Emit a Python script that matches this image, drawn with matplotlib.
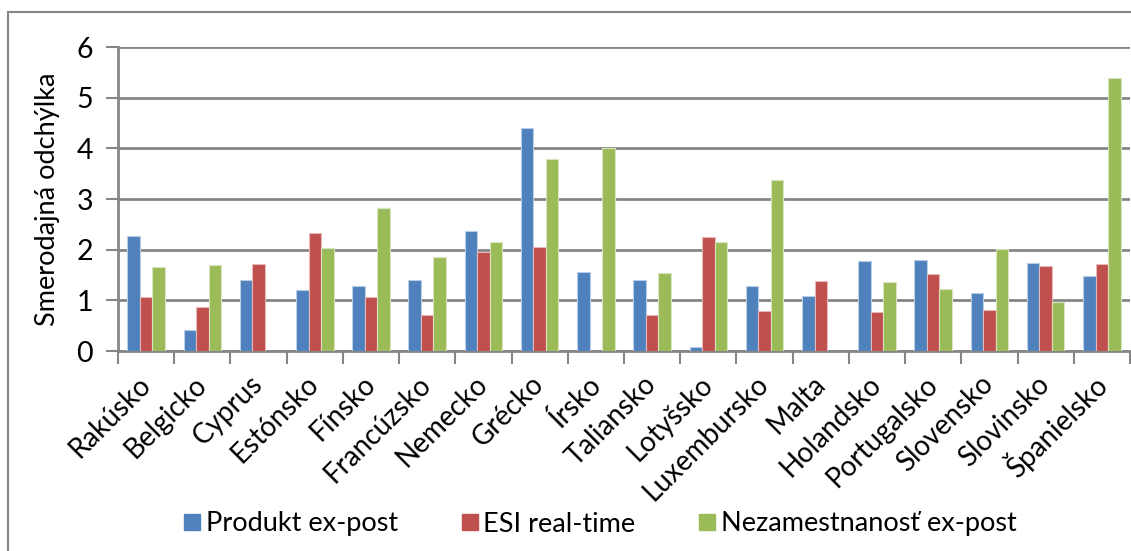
import matplotlib
matplotlib.use("Agg")
import matplotlib.pyplot as plt
from matplotlib.lines import Line2D
import numpy as np

countries = ["Rakúsko", "Belgicko", "Cyprus", "Estónsko", "Fínsko", "Francúzsko",
             "Nemecko", "Grécko", "Írsko", "Taliansko", "Lotyšsko", "Luxembursko",
             "Malta", "Holandsko", "Portugalsko", "Slovensko", "Slovinsko", "Španielsko"]
produkt = [2.27, 0.41, 1.41, 1.21, 1.28, 1.41, 2.37, 4.41, 1.55, 1.41, 0.07, 1.29,
           1.08, 1.78, 1.80, 1.14, 1.73, 1.48]
esi = [1.06, 0.87, 1.72, 2.33, 1.07, 0.71, 1.95, 2.06, 0.0, 0.71, 2.25, 0.78,
       1.39, 0.77, 1.52, 0.81, 1.67, 1.72]
nezam = [1.65, 1.70, 0.0, 2.04, 2.83, 1.86, 2.15, 3.78, 4.01, 1.54, 2.15, 3.37,
         0.0, 1.36, 1.23, 2.02, 0.96, 5.39]
series_names = ["Produkt ex-post", "ESI real-time", "Nezamestnanosť ex-post"]
colors = ["#4F81BD", "#C0504D", "#9BBB59"]
edges = ["#B9CDE5", "#E6B9B8", "#D7E4BD"]
yticks = [0, 1, 2, 3, 4, 5, 6]

plt.rcParams['font.family'] = ['Lato', 'DejaVu Sans']
FS = 19.5

W, H = 1131, 551
fig = plt.figure(figsize=(W / 100, H / 100), dpi=100)
ax = fig.add_axes([118 / W, 1 - 351 / H, (1130 - 118) / W, (351 - 47) / H])

n = len(countries)
x = np.arange(n)
w = 1 / 4.5
for i, (vals, c, e) in enumerate(zip([produkt, esi, nezam], colors, edges)):
    ax.bar(x + (i - 1) * w, vals, width=w, color=c, edgecolor=e, linewidth=0.8,
           zorder=3, label=series_names[i])

ax.set_xlim(-0.5, n - 0.5)
ax.set_ylim(0, 6)
ax.set_yticks(yticks)
ax.set_yticklabels([str(t) for t in yticks], fontsize=FS + 1)
ax.yaxis.grid(True, color="#868686", linewidth=2, zorder=0)
ax.set_axisbelow(True)
for s in ["top", "right"]:
    ax.spines[s].set_visible(False)
for s in ["left", "bottom"]:
    ax.spines[s].set_color("#868686")
    ax.spines[s].set_linewidth(2)
ax.tick_params(axis="y", length=9, width=1.5, color="#868686", pad=9)

# category separator ticks on the x axis
ax.set_xticks(np.arange(n + 1) - 0.5, minor=True)
ax.tick_params(axis="x", which="minor", length=9, width=1.5, color="#868686")
ax.set_xticks(x)
ax.set_xticklabels(countries, rotation=45, ha="right", va="center",
                   rotation_mode="anchor", fontsize=FS + 0.5)
ax.tick_params(axis="x", which="major", length=0, pad=21)

ax.set_ylabel("Smerodajná odchýlka", fontsize=FS, labelpad=12)

handles = [Line2D([0], [0], marker="s", linestyle="none", markersize=12,
                  markerfacecolor=c, markeredgecolor=c) for c in colors]
fig.legend(handles, series_names, loc="center", bbox_to_anchor=(0.53, 1 - 524 / H),
           ncol=3, frameon=False, fontsize=FS, handlelength=0.7, handletextpad=0.15,
           columnspacing=2.3)

# outer chart frame
fig.add_artist(Line2D([8 / W, 8 / W], [0, 1 - 12 / H], transform=fig.transFigure,
                      color="#868686", linewidth=1.5))
fig.add_artist(Line2D([8 / W, 1], [1 - 12 / H, 1 - 12 / H], transform=fig.transFigure,
                      color="#868686", linewidth=1.5))

fig.savefig("out.png", dpi=100)
